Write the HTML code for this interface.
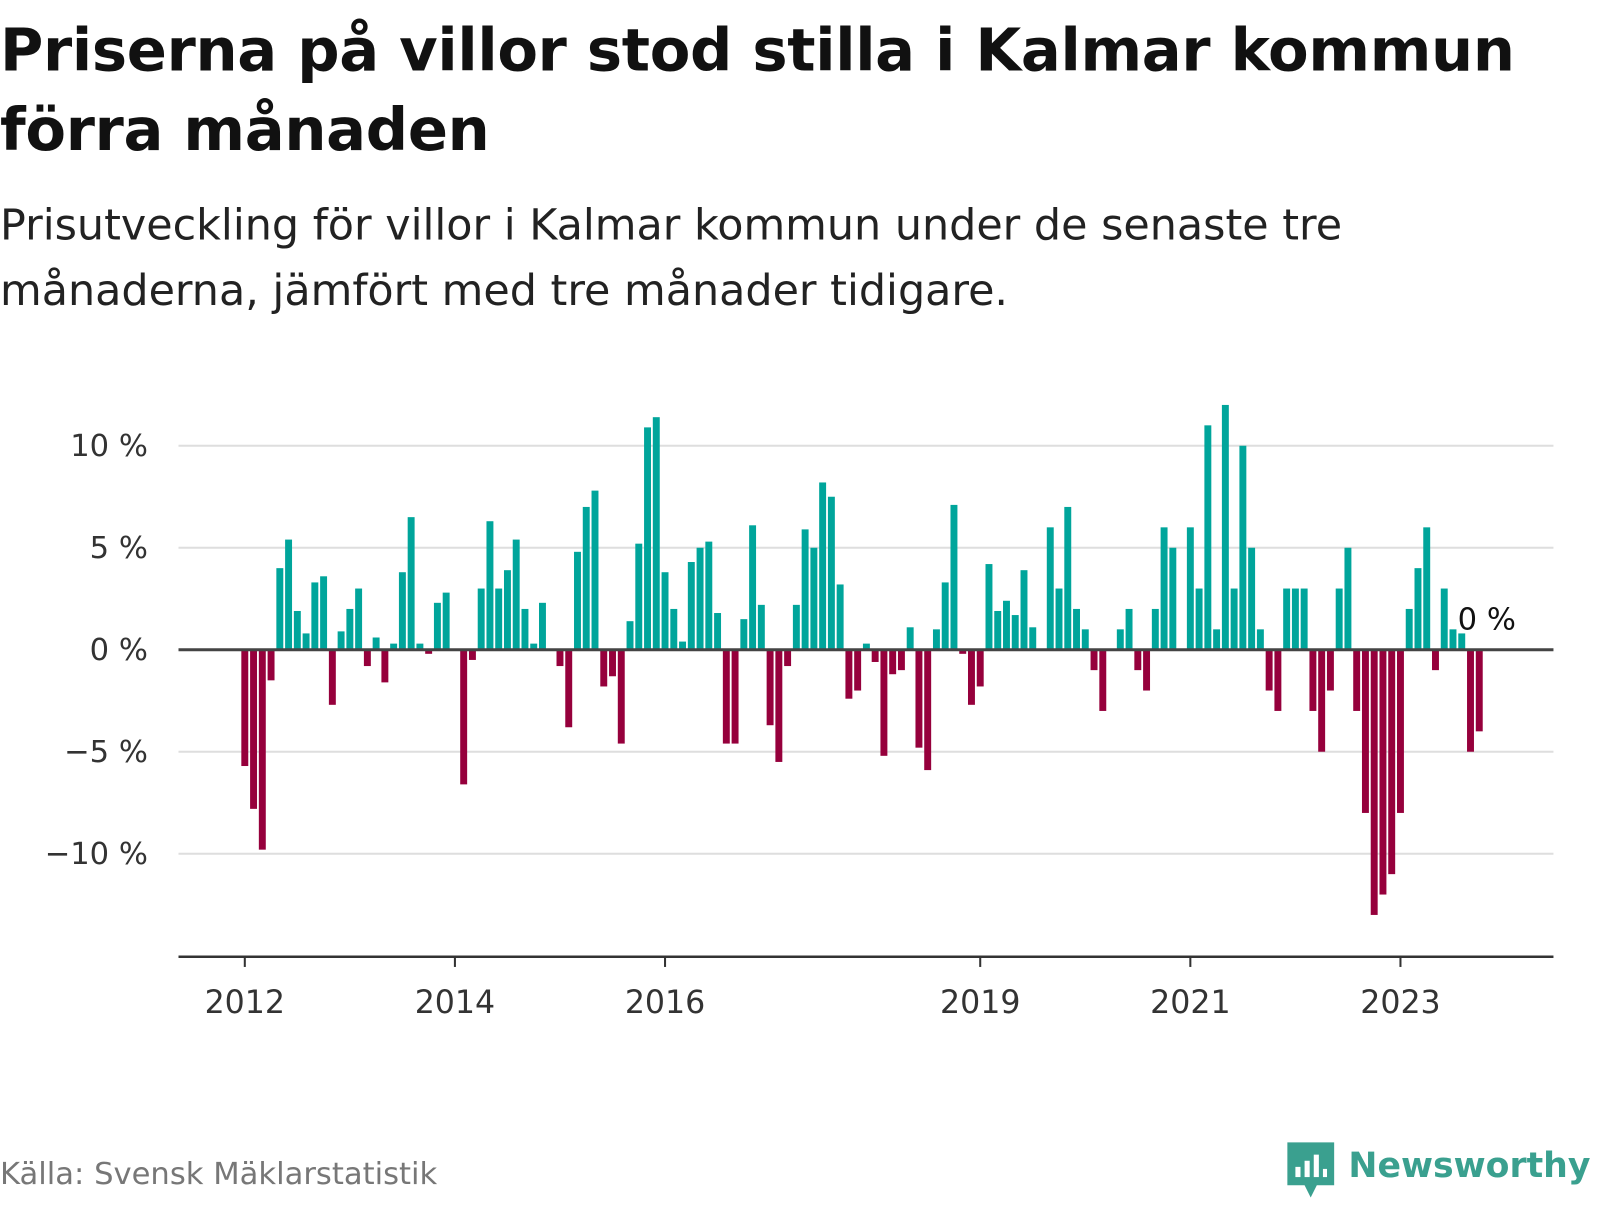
<!DOCTYPE html>
<html><head><meta charset="utf-8">
<style>
html,body{margin:0;padding:0;background:#fff;width:1600px;height:1200px;overflow:hidden;font-family:"DejaVu Sans","Liberation Sans",sans-serif;}
#wrap{position:absolute;left:0;top:0;width:1568px;height:1176px;transform:scale(1.02);transform-origin:0 0;}
h1{position:absolute;left:0px;top:10px;margin:0;font-size:58px;line-height:78px;font-weight:bold;color:#111;width:1540px;letter-spacing:-0.3px;}
.sub{position:absolute;left:0px;top:189px;margin:0;font-size:42px;line-height:64px;color:#222;width:1420px;}
.src{position:absolute;left:0px;top:1134px;font-size:30px;color:#777;}
.logo{position:absolute;left:1262px;top:1118px;}
</style></head><body>
<div id="wrap">
<h1>Priserna på villor stod stilla i Kalmar kommun förra månaden</h1>
<p class="sub">Prisutveckling för villor i Kalmar kommun under de senaste tre månaderna, jämfört med tre månader tidigare.</p>
<svg id="chart" width="1568" height="1176" style="position:absolute;left:0;top:0" xmlns="http://www.w3.org/2000/svg"></svg>
<div class="src">Källa: Svensk Mäklarstatistik</div>
<div class="logo">
<svg width="310" height="62" xmlns="http://www.w3.org/2000/svg">
<path d="M0 2 h46 v42 h-17 l-6 12 l-6 -12 h-17z" fill="#3aa08f"/>
<rect x="8" y="26" width="5" height="10" fill="#fff"/><rect x="17" y="20" width="5" height="16" fill="#fff"/><rect x="26" y="14" width="5" height="22" fill="#fff"/><rect x="35" y="28" width="4" height="8" fill="#fff"/>
<text x="60" y="36" font-family="DejaVu Sans, sans-serif" font-weight="bold" font-size="34" fill="#3aa08f">Newsworthy</text>
</svg></div>
</div>
<script>
const startYear = 2012;
const values = [
-5.7,-7.8,-9.8,-1.5,4.0,5.4,1.9,0.8,3.3,3.6,-2.7,0.9,
2.0,3.0,-0.8,0.6,-1.6,0.3,3.8,6.5,0.3,-0.2,2.3,2.8,
0,-6.6,-0.5,3.0,6.3,3.0,3.9,5.4,2.0,0.3,2.3,0,
-0.8,-3.8,4.8,7.0,7.8,-1.8,-1.3,-4.6,1.4,5.2,10.9,11.4,
3.8,2.0,0.4,4.3,5.0,5.3,1.8,-4.6,-4.6,1.5,6.1,2.2,
-3.7,-5.5,-0.8,2.2,5.9,5.0,8.2,7.5,3.2,-2.4,-2.0,0.3,
-0.6,-5.2,-1.2,-1.0,1.1,-4.8,-5.9,1.0,3.3,7.1,-0.2,-2.7,
-1.8,4.2,1.9,2.4,1.7,3.9,1.1,0,6.0,3.0,7.0,2.0,
1.0,-1.0,-3.0,0,1.0,2.0,-1.0,-2.0,2.0,6.0,5.0,0,
6.0,3.0,11.0,1.0,12.0,3.0,10.0,5.0,1.0,-2.0,-3.0,3.0,
3.0,3.0,-3.0,-5.0,-2.0,3.0,5.0,-3.0,-8.0,-13.0,-12.0,-11.0,
-8.0,2.0,4.0,6.0,-1.0,3.0,1.0,0.8,-5.0,-4.0];
const yTicks = [-10,-5,0,5,10];
const yTickLabels = ["−10 %","−5 %","0 %","5 %","10 %"];
const xTickYears = [2012,2014,2016,2019,2021,2023];
const lastLabel = "0 %";

const NS="http://www.w3.org/2000/svg";
const svg=document.getElementById('chart');
const monthW=103/12;
function x(i){return 240+i*monthW;}
function y(v){return 637-v*20;}
function mk(tag,attrs){const e=document.createElementNS(NS,tag);for(const k in attrs)e.setAttribute(k,attrs[k]);svg.appendChild(e);return e;}
const L=175,R=1523,AX=938;

yTicks.forEach((t,k)=>{
  if(t!==0){const g=mk('line',{x1:L,x2:R,y1:y(t),y2:y(t),stroke:'#dedede','stroke-width':2});
  
  }
  const tx=mk('text',{x:145,y:y(t)+10,'text-anchor':'end','font-size':30,fill:'#333','font-family':'DejaVu Sans, sans-serif'});
  tx.textContent=yTickLabels[k];
  
  
});
values.forEach((v,i)=>{
  if(v===0)return;
  const r=mk('rect',{x:x(i)-3.4,width:6.8,y:Math.min(y(v),y(0)),height:Math.abs(y(v)-y(0)),fill:v>0?'#00a59b':'#96003c'});
  
  
});
const zl=mk('line',{x1:L,x2:R,y1:y(0),y2:y(0),stroke:'#444','stroke-width':3});


const ax=mk('line',{x1:L,x2:R,y1:AX,y2:AX,stroke:'#333','stroke-width':2.5});


xTickYears.forEach(yr=>{
  const xi=x((yr-startYear)*12);
  const tk=mk('line',{x1:xi,x2:xi,y1:AX,y2:AX+10,stroke:'#333','stroke-width':2});
  
  
  const t=mk('text',{x:xi,y:AX+55,'text-anchor':'middle','font-size':31,fill:'#333','font-family':'DejaVu Sans, sans-serif'});
  t.textContent=String(yr);
  
  
});
const li=values.length-3;
const lab=mk('text',{x:x(li)-4,y:y(0)-20,'font-size':30,fill:'#111','font-family':'DejaVu Sans, sans-serif'});
lab.textContent=lastLabel;


</script>
</body></html>
